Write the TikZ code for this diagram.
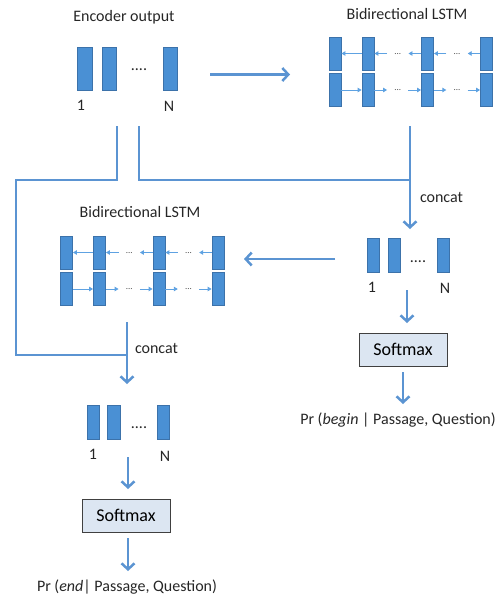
\documentclass[tikz,border=0pt]{standalone}
\usepackage{fontspec}
\setmainfont{Carlito}
\usetikzlibrary{calc,arrows.meta}

\definecolor{barblue}{HTML}{4A90D4}
\definecolor{barline}{HTML}{3C72AA}
\definecolor{linkblue}{HTML}{5B94D2}
\definecolor{cellarrow}{HTML}{5EA2E2}
\definecolor{boxfill}{HTML}{DCE6F2}

\tikzset{
    txt/.style={font=\fontsize{16}{18}\selectfont, text=black!85, anchor=base},
    bar/.style={draw=barline, fill=barblue, line width=0.8pt, minimum width=12pt, minimum height=34pt, inner sep=0pt},
    cell/.style={bar, minimum height=33pt},
    rowdots/.style={font=\fontsize{9}{9}\selectfont, text=black!70, minimum width=21pt, inner sep=0pt, text height=1.4pt, text depth=0pt},
    conn/.style={draw=linkblue, line width=2.5pt},
    flow/.style={conn, -{Straight Barb[length=6pt,width=13pt]}},
    cellflow/.style={draw=cellarrow, line width=0.9pt, -{Triangle[length=4pt,width=4.5pt]}},
    softbox/.style={draw=black!75, fill=boxfill, line width=0.9pt, minimum width=88pt, minimum height=33pt, font=\fontsize{18}{20}\selectfont}
}

\begin{document}
\begin{tikzpicture}[x=1pt,y=-1pt]
    \useasboundingbox (0,0) rectangle (496,600);

    % encoder output
    \node[txt] (enclabel) at (124,21) {Encoder output};
    \node[bar, minimum width=14.5pt, minimum height=43pt] (e1) at (85,68.5) {};
    \node[bar, minimum width=14.5pt, minimum height=43pt] (e2) at (109.5,68.5) {};
    \node[bar, minimum width=14.5pt, minimum height=43pt] (e3) at (170.5,68.5) {};
    \node[txt] (edots) at (139,70) {....};
    \node[txt] (eone) at (81,110) {1};
    \node[txt] (eN) at (169,111) {N};

    % the two bidirectional LSTMs
    \node[txt] (ulabel) at (407,19) {Bidirectional LSTM};
    \node[txt] (llabel) at (140,217) {Bidirectional LSTM};

    \foreach \p/\x/\y in {u/335/53.5, l/66.5/252.5}
        {
            \foreach \c/\dx in {1/0, 2/33, 3/92.5, 4/151.5}
                {
                    \node[cell] (\p t\c) at (\x+\dx,\y) {};
                    \node[cell] (\p b\c) at (\x+\dx,\y+36.5) {};
                }
            \node[rowdots] (\p dt1) at (\x+62.75,\y) {...};
            \node[rowdots] (\p dt2) at (\x+122,\y) {...};
            \node[rowdots] (\p db1) at (\x+62.75,\y+36.5) {...};
            \node[rowdots] (\p db2) at (\x+122,\y+36.5) {...};

            \draw[cellflow] (\p t2.west) -- (\p t1.east);
            \draw[cellflow] (\p dt1.west) -- (\p t2.east);
            \draw[cellflow] (\p t3.west) -- (\p dt1.east);
            \draw[cellflow] (\p dt2.west) -- (\p t3.east);
            \draw[cellflow] (\p t4.west) -- (\p dt2.east);

            \draw[cellflow] (\p b1.east) -- (\p b2.west);
            \draw[cellflow] (\p b2.east) -- (\p db1.west);
            \draw[cellflow] (\p db1.east) -- (\p b3.west);
            \draw[cellflow] (\p b3.east) -- (\p db2.west);
            \draw[cellflow] (\p db2.east) -- (\p b4.west);
        }

    % begin branch
    \node[bar] (b1) at (373.5,255) {};
    \node[bar] (b2) at (394,255) {};
    \node[bar] (b3) at (443,255) {};
    \node[txt] (bdots) at (418,262) {....};
    \node[txt] (bone) at (372,292) {1};
    \node[txt] (bN) at (445,293) {N};
    \node[softbox] (bsoft) at (403,349.5) {Softmax};
    \node[txt] (bprob) at (398,424) {Pr (\textit{begin} | Passage, Question)};
    \node[txt] (bconcat) at (441.5,202) {concat};

    % end branch
    \node[bar, minimum width=12.5pt] (f1) at (93.5,422) {};
    \node[bar, minimum width=12.5pt] (f2) at (114,422) {};
    \node[bar, minimum width=12.5pt] (f3) at (163.5,422) {};
    \node[txt] (fdots) at (139,428) {....};
    \node[txt] (fone) at (93,459) {1};
    \node[txt] (fN) at (165,461) {N};
    \node[softbox] (fsoft) at (126,515.5) {Softmax};
    \node[txt] (fprob) at (127,591) {Pr (\textit{end}| Passage, Question)};
    \node[txt] (fconcat) at (156.5,353) {concat};

    % connector ends
    \coordinate (encR) at (210,74.5);
    \coordinate (uL) at (290,74.5);
    \coordinate (encA) at (117,126);
    \coordinate (encB) at (139,126);
    \coordinate (uOut) at (410,126);
    \coordinate (bJoin) at (410,180);
    \coordinate (bIn) at (410,229);
    \coordinate (bOut) at (335,259);
    \coordinate (lIn) at (244,259);
    \coordinate (lOut) at (127,322);
    \coordinate (fJoin) at (127,355);
    \coordinate (fIn) at (127,384);
    \coordinate (bArr) at (407,290);
    \coordinate (bSoftIn) at (407,323);
    \coordinate (bSoftOut) at (403,372);
    \coordinate (bProbIn) at (403,404);
    \coordinate (fArr) at (128,457);
    \coordinate (fSoftIn) at (128,489);
    \coordinate (fSoftOut) at (128,538);
    \coordinate (fProbIn) at (128,571);

    \draw[flow] (encR) -- (uL);
    \draw[conn] (encA) |- (16,180) |- (fJoin);
    \draw[conn] (encB) |- (bJoin);
    \draw[flow] (uOut) -- (bIn);
    \draw[flow] (bOut) -- (lIn);
    \draw[flow] (lOut) -- (fIn);

    \draw[flow] (bArr) -- (bSoftIn);
    \draw[flow] (bSoftOut) -- (bProbIn);
    \draw[flow] (fArr) -- (fSoftIn);
    \draw[flow] (fSoftOut) -- (fProbIn);

\end{tikzpicture}
\end{document}
